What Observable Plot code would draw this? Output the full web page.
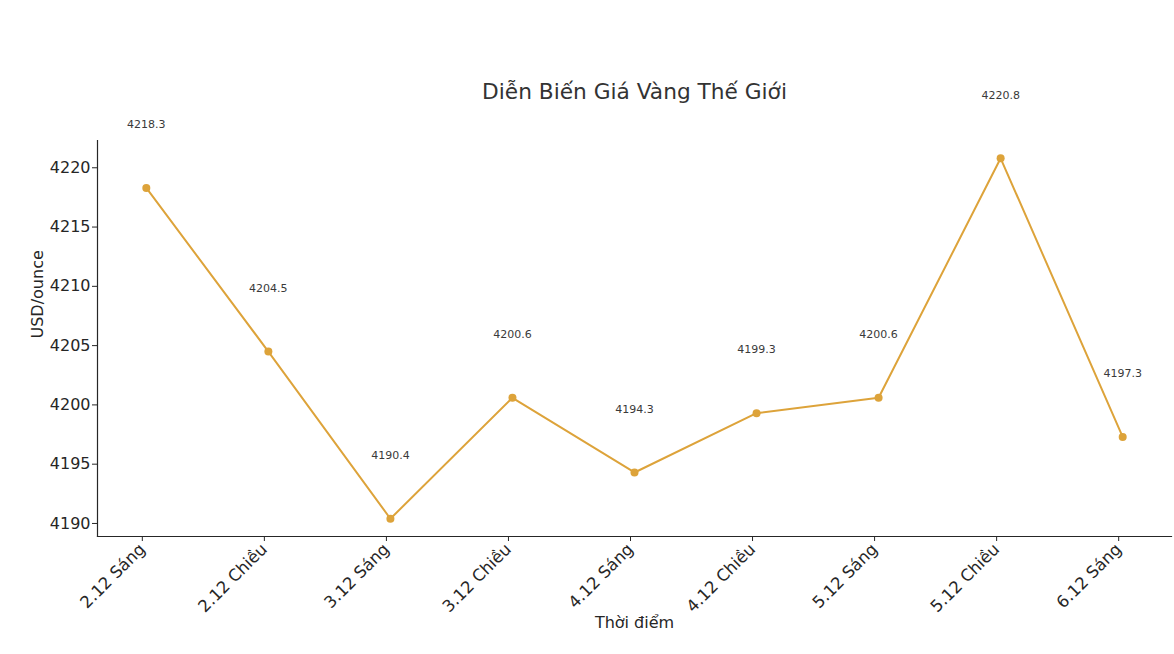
<!DOCTYPE html>
<html><head><meta charset="utf-8">
<script src="https://cdn.jsdelivr.net/npm/d3@7"></script>
<script src="https://cdn.jsdelivr.net/npm/@observablehq/plot@0.6"></script>
<style>
body{margin:0;background:#fff;font-family:"DejaVu Sans",sans-serif;}
#wrap{position:relative;width:1174px;height:654px;}
#title{position:absolute;left:97px;width:1075px;top:79px;text-align:center;font-size:21.7px;color:#333;}
</style></head>
<body><div id="wrap"><div id="title">Diễn Biến Giá Vàng Thế Giới</div><div id="chart"></div></div>
<script>
const categories = ["2.12 Sáng","2.12 Chiều","3.12 Sáng","3.12 Chiều","4.12 Sáng","4.12 Chiều","5.12 Sáng","5.12 Chiều","6.12 Sáng"];
const prices = [4218.3, 4204.5, 4190.4, 4200.6, 4194.3, 4199.3, 4200.6, 4220.8, 4197.3];
const yTicks = [4190, 4195, 4200, 4205, 4210, 4215, 4220];
const labelOffset = 5;

const data = categories.map((c, i) => ({c, v: prices[i]}));
const color = "#DDA33A";
const ink = "#262626";

const chart = Plot.plot({
  width: 1174, height: 654,
  marginLeft: 97, marginRight: 3, marginTop: 140, marginBottom: 118,
  style: {fontFamily: "DejaVu Sans, sans-serif", background: "#fff", color: ink},
  x: {type: "point", domain: categories, padding: 0.4, round: false, label: null},
  y: {domain: [4188.9, 4222.3], label: null},
  marks: [
    Plot.axisY({ticks: yTicks, tickFormat: "d", tickSize: 5, tickPadding: 2, fontSize: 16, stroke: ink, fill: ink, label: null}),
    Plot.axisX({tickSize: 5, tickPadding: 5, fontSize: 16.5, tickRotate: -45, stroke: ink, fill: ink, label: null, dx: -4}),
    Plot.frame({anchor: "left", stroke: ink, strokeWidth: 1.2}),
    Plot.frame({anchor: "bottom", stroke: ink, strokeWidth: 1.2}),
    Plot.line(data, {x: "c", y: "v", stroke: color, strokeWidth: 2}),
    Plot.dot(data, {x: "c", y: "v", fill: color, r: 4}),
    Plot.text(data, {x: "c", y: d => d.v + labelOffset, text: d => d.v.toFixed(1), fontSize: 11, fill: "#3a3a3a", dy: -4}),
    Plot.text(["USD/ounce"], {frameAnchor: "left", dx: -60, rotate: -90, fontSize: 16, fill: ink}),
    Plot.text(["Thời điểm"], {frameAnchor: "bottom", dy: 91, fontSize: 16, fill: ink})
  ]
});
document.getElementById("chart").appendChild(chart);
</script></body></html>
